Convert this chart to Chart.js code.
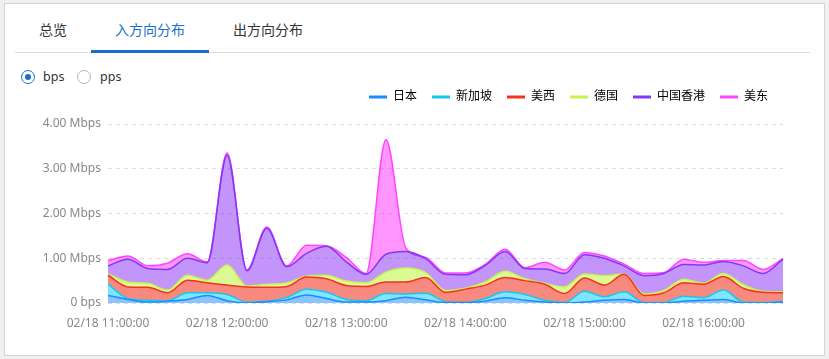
<!DOCTYPE html>
<html><head><meta charset="utf-8">
<script src="https://cdn.jsdelivr.net/npm/chart.js@4/dist/chart.umd.min.js"></script>
<style>
html,body{margin:0;padding:0;}
body{width:829px;height:359px;background:#f0f0f0;position:relative;overflow:hidden;font-family:"Noto Sans","Noto Sans CJK SC",sans-serif;}
.card{position:absolute;left:4px;top:3px;width:819px;height:351px;background:#fff;border:1px solid #d4d4d4;}
.tab{position:absolute;top:19px;height:20px;line-height:20px;font-size:14px;color:#333;text-align:center;font-family:"Noto Sans CJK SC",sans-serif;}
.sep{position:absolute;left:15px;top:52px;width:795px;height:1px;background:#dcdcdc;}
.ul{position:absolute;left:91px;top:50px;width:118px;height:3px;background:#1a6fcc;}
.radio{position:absolute;top:70px;width:12px;height:12px;border-radius:50%;border:1px solid #b5b5b5;background:#fff;}
.radio.on{border-color:#1a6fcc;}
.radio.on::after{content:"";position:absolute;left:3px;top:3px;width:6px;height:6px;border-radius:50%;background:#1a6fcc;}
.rl{position:absolute;top:69px;font-size:12.5px;color:#333;line-height:16px;}
#wrap{position:absolute;left:0;top:0;width:829px;height:359px;}
</style></head>
<body>
<div class="card"></div>
<div class="tab" style="left:20px;width:66px;">总览</div>
<div class="tab" style="left:91px;width:118px;color:#1a6fcc;">入方向分布</div>
<div class="tab" style="left:209px;width:118px;">出方向分布</div>
<div class="sep"></div>
<div class="ul"></div>
<div class="radio on" style="left:21px;"></div>
<div class="rl" style="left:43px;">bps</div>
<div class="radio" style="left:77px;"></div>
<div class="rl" style="left:100px;">pps</div>
<div id="wrap"><canvas id="c"></canvas></div>
<script>
const times = ["02/18 11:00:00","02/18 11:10:00","02/18 11:20:00","02/18 11:30:00","02/18 11:40:00","02/18 11:50:00",
"02/18 12:00:00","02/18 12:10:00","02/18 12:20:00","02/18 12:30:00","02/18 12:40:00","02/18 12:50:00",
"02/18 13:00:00","02/18 13:10:00","02/18 13:20:00","02/18 13:30:00","02/18 13:40:00","02/18 13:50:00",
"02/18 14:00:00","02/18 14:10:00","02/18 14:20:00","02/18 14:30:00","02/18 14:40:00","02/18 14:50:00",
"02/18 15:00:00","02/18 15:10:00","02/18 15:20:00","02/18 15:30:00","02/18 15:40:00","02/18 15:50:00",
"02/18 16:00:00","02/18 16:10:00","02/18 16:20:00","02/18 16:30:00","02/18 16:40:00"];
const seriesNames = ["日本","新加坡","美西","德国","中国香港","美东"];
// values in Mbps
const japan = [.17,.08,.02,.04,.08,.17,.05,.00,.03,.07,.18,.10,.02,.02,.05,.13,.07,.01,.01,.04,.12,.06,.02,.00,.02,.06,.08,.00,.00,.04,.06,.08,.00,.00,.02];
const singapore = [.25,.02,.04,.01,.15,.06,.14,.02,.01,.05,.13,.14,.06,.03,.16,.07,.15,.02,.00,.06,.13,.13,.04,.01,.24,.08,.17,.01,.01,.11,.06,.21,.02,.01,.02];
const usWest = [.20,.26,.29,.18,.28,.22,.21,.34,.31,.25,.27,.30,.31,.32,.26,.27,.35,.21,.30,.30,.32,.31,.36,.20,.30,.26,.39,.16,.22,.30,.30,.30,.31,.23,.19];
const germany = [.03,.11,.09,.06,.11,.06,.45,.02,.07,.08,.02,.08,.10,.08,.22,.31,.11,.04,.02,.07,.14,.04,.02,.15,.09,.21,.01,.03,.05,.08,.02,.07,.08,.02,.02];
const hongKong = [.18,.51,.33,.46,.38,.39,2.45,.34,1.25,.36,.51,.65,.43,.19,.40,.37,.31,.36,.30,.37,.44,.23,.32,.30,.43,.39,.18,.41,.38,.33,.41,.27,.42,.40,.73];
const usEast = [.12,.07,.06,.14,.10,.02,.05,.02,.03,.02,.18,.01,.10,.02,2.56,.08,.03,.03,.04,.02,.05,.02,.15,.08,.05,.05,.04,.05,.02,.12,.06,.02,.12,.09,.01];
const yTicks = [0,1,2,3,4];

const lineColors = ["#1a8cff","#19c6f2","#f5321f","#c5f54a","#8438f2","#ff45ff"];
const fillColors = ["rgba(24,136,250,0.5)","rgba(0,205,255,0.5)","rgba(242,40,20,0.55)","rgba(190,245,60,0.55)","rgba(128,30,245,0.47)","rgba(255,45,255,0.5)"];
const values = [japan, singapore, usWest, germany, hongKong, usEast];

const datasets = values.map((v,i)=>({
  label: seriesNames[i], data: v,
  borderColor: lineColors[i], backgroundColor: fillColors[i],
  borderWidth: 1.5, pointRadius: 0, fill: i===0 ? 'origin' : '-1',
  cubicInterpolationMode: 'monotone'
}));

const FONT = {family: '"Noto Sans","Noto Sans CJK SC",sans-serif', size: 12};
const legendGap = {
  id: 'legendGap',
  afterInit(chart) {
    const lg = chart.legend;
    const orig = lg.fit;
    lg.fit = function() { orig.call(this); this.height += 11; };
  }
};
const chart = new Chart(document.getElementById('c'), {
  type: 'line',
  data: {labels: times, datasets},
  plugins: [legendGap],
  options: {
    responsive: true, maintainAspectRatio: false, animation: false,
    layout: {padding: {top: 76, right: 46, bottom: 0, left: 0}},
    plugins: {
      tooltip: {enabled: false},
      legend: {
        position: 'top', align: 'end',
        labels: {
          boxWidth: 18, boxHeight: 3, padding: 15, color: '#333', font: FONT,
          generateLabels: (ch) => ch.data.datasets.map((d,i)=>({
            text: d.label, fillStyle: lineColors[i], strokeStyle: lineColors[i], lineWidth: 0, datasetIndex: i, hidden: false
          }))
        }
      }
    },
    scales: {
      x: {
        grid: {display: false}, border: {display: false},
        ticks: {autoSkip: false, maxRotation: 0, minRotation: 0, padding: 5, color: '#888', font: FONT,
          callback: (v,i) => i % 6 === 0 ? times[i] : ''},
        afterFit: s => { s.height = 56; }
      },
      y: {
        stacked: true, min: 0, max: 4,
        afterBuildTicks: s => { s.ticks = yTicks.map(v=>({value:v})); },
        grid: {color: '#dcdcdc', drawTicks: false}, border: {display: false, dash: [4,4]},
        ticks: {padding: 7, color: '#888', font: FONT,
          callback: v => v === 0 ? '0 bps' : v.toFixed(2) + ' Mbps'},
        afterFit: s => { s.width = 108; }
      }
    }
  }
});
chart.update();
</script>
</body></html>
